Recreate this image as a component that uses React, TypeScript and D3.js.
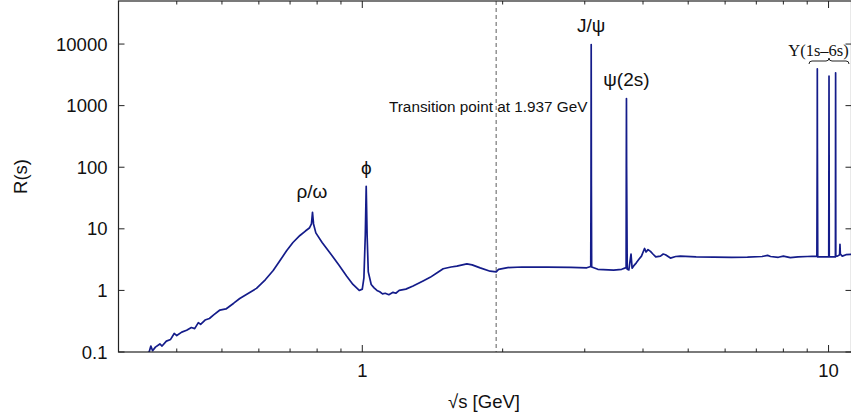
import React from "react";
import * as d3 from "d3";

const energies = [
  0.345, 0.349, 0.352, 0.355, 0.36, 0.368, 0.372, 0.38, 0.388, 0.395, 0.4, 0.41, 0.42, 0.43, 0.437, 0.445, 0.45, 0.46, 0.47, 0.48, 0.495, 0.51, 0.53, 0.546, 0.57, 0.593, 0.62, 0.644, 0.665, 0.688, 0.71, 0.735, 0.755, 0.77, 0.778, 0.782, 0.786, 0.795, 0.82, 0.852, 0.89, 0.926, 0.955, 0.985, 1.0, 1.008, 1.015, 1.0195, 1.024, 1.03, 1.045, 1.06, 1.075, 1.09, 1.105, 1.12, 1.14, 1.164, 1.18, 1.2, 1.24, 1.285, 1.35, 1.398, 1.45, 1.491, 1.55, 1.595, 1.676, 1.72, 1.79, 1.88, 1.937, 1.96, 2.05, 2.2, 2.49, 2.8, 3.03, 3.09, 3.094, 3.097, 3.1, 3.104, 3.2, 3.46, 3.6, 3.68, 3.683, 3.686, 3.689, 3.7, 3.73, 3.77, 3.79, 3.82, 3.87, 3.92, 3.97, 4.03, 4.06, 4.1, 4.15, 4.2, 4.26, 4.36, 4.42, 4.47, 4.58, 4.7, 4.81, 5.2, 5.68, 6.2, 6.7, 7.2, 7.4, 7.51, 7.8, 8.0, 8.28, 8.6, 9.0, 9.44, 9.455, 9.46, 9.465, 9.48, 9.9, 10.01, 10.018, 10.023, 10.028, 10.035, 10.2, 10.345, 10.351, 10.355, 10.359, 10.365, 10.45, 10.56, 10.58, 10.6, 10.7, 10.9, 11.2,
];
const rValues = [
  0.095, 0.1, 0.125, 0.105, 0.12, 0.135, 0.125, 0.15, 0.16, 0.2, 0.185, 0.21, 0.225, 0.25, 0.24, 0.3, 0.28, 0.33, 0.35, 0.4, 0.48, 0.5, 0.62, 0.74, 0.9, 1.08, 1.5, 2.1, 3.0, 4.4, 6.0, 7.8, 9.2, 10.3, 12, 18.5, 12, 8.6, 6.0, 4.1, 2.6, 1.7, 1.25, 1.0, 1.05, 1.6, 8, 49, 8, 2.0, 1.25, 1.1, 1.0, 0.95, 0.88, 0.9, 0.85, 0.93, 0.9, 1.0, 1.05, 1.18, 1.42, 1.63, 1.95, 2.25, 2.4, 2.48, 2.7, 2.6, 2.32, 2.05, 2.0, 2.2, 2.35, 2.4, 2.38, 2.36, 2.33, 2.45, 50, 9800, 50, 2.4, 2.2, 2.14, 2.2, 2.34, 100, 1300, 100, 2.2, 2.15, 3.9, 2.3, 2.5, 2.8, 3.2, 3.6, 4.8, 4.2, 4.6, 4.3, 3.9, 3.5, 3.6, 3.9, 3.8, 3.35, 3.55, 3.6, 3.5, 3.47, 3.45, 3.47, 3.55, 3.7, 3.55, 3.45, 3.6, 3.4, 3.5, 3.55, 3.6, 200, 3970, 200, 3.5, 3.5, 3.5, 200, 3010, 200, 3.5, 3.5, 3.5, 200, 3420, 200, 3.6, 3.6, 3.8, 5.6, 3.9, 3.6, 3.8, 3.84,
];

const yTickValues = [0.1, 1, 10, 100, 1000, 10000];
const yTickLabels = ["0.1", "1", "10", "100", "1000", "10000"];
const xMajorTicks = [1, 10];
const xMinorTicks = [0.4, 0.5, 0.6, 0.7, 0.8, 0.9, 2, 3, 4, 5, 6, 7, 8, 9];
const transitionEnergy = 1.937;

const peakLabels = [
  { text: "ρ/ω", x: 0.78, y: 19, dy: -14 },
  { text: "ϕ", x: 1.0195, y: 50, dy: -12 },
  { text: "J/ψ", x: 3.097, y: 9800, dy: -13 },
  { text: "ψ(2s)", x: 3.686, y: 1300, dy: -13 },
];

export default function App() {
  const W = 851;
  const H = 417;
  const left = 118.5;
  const right = 851.5;
  const top = 1;
  const bottom = 352;
  const x = d3.scaleLog().domain([0.3, 11.2]).range([left, right]);
  const y = d3.scaleLog().domain([0.1, 50000]).range([bottom, top]);
  const pts: [number, number][] = energies.map((e, i) => [e, rValues[i]]);
  const line = d3
    .line<[number, number]>()
    .x((d) => x(d[0]))
    .y((d) => y(d[1]));
  const font = "'Liberation Sans', Arial, Helvetica, sans-serif";
  const col = "#141c8a";
  const axisCol = "#222";

  const bx0 = 809;
  const bx1 = 849;
  const bm = (bx0 + bx1) / 2;
  const braceY = 61;
  const brace = `M${bx0},${braceY + 3} Q${bx0},${braceY} ${bx0 + 3},${braceY} L${bm - 3},${braceY} Q${bm},${braceY} ${bm},${braceY - 3} Q${bm},${braceY} ${bm + 3},${braceY} L${bx1 - 3},${braceY} Q${bx1},${braceY} ${bx1},${braceY + 3}`;

  return (
    <svg
      width={W}
      height={H}
      style={{ position: "absolute", left: 0, top: 0, background: "#fff" }}
      fontFamily={font}
    >
      <defs>
        <clipPath id="plotclip">
          <rect x={left} y={top} width={right - left} height={bottom - top} />
        </clipPath>
      </defs>
      <line
        x1={x(transitionEnergy)}
        x2={x(transitionEnergy)}
        y1={top}
        y2={bottom}
        stroke="#777"
        strokeWidth={1.2}
        strokeDasharray="4,3"
      />
      <path
        d={line(pts) || ""}
        fill="none"
        stroke={col}
        strokeWidth={1.7}
        strokeLinejoin="round"
        clipPath="url(#plotclip)"
      />
      <rect x={left} y={top} width={right - left} height={bottom - top} fill="none" stroke={axisCol} strokeWidth={1.2} />
      {yTickValues.map((v, i) => (
        <g key={"y" + i}>
          <line x1={left} x2={left + 6} y1={y(v)} y2={y(v)} stroke={axisCol} strokeWidth={1} />
          <line x1={right - 6} x2={right} y1={y(v)} y2={y(v)} stroke={axisCol} strokeWidth={1} />
          <text x={left - 11} y={y(v)} dy="0.36em" textAnchor="end" fontSize={18.5} fill="#111">
            {yTickLabels[i]}
          </text>
        </g>
      ))}
      {xMajorTicks.map((v) => (
        <g key={"xm" + v}>
          <line x1={x(v)} x2={x(v)} y1={bottom} y2={bottom - 7} stroke={axisCol} strokeWidth={1} />
          <line x1={x(v)} x2={x(v)} y1={top} y2={top + 7} stroke={axisCol} strokeWidth={1} />
          <text x={x(v)} y={377} textAnchor="middle" fontSize={18.5} fill="#111">
            {v}
          </text>
        </g>
      ))}
      {xMinorTicks.map((v) => (
        <g key={"xn" + v}>
          <line x1={x(v)} x2={x(v)} y1={bottom} y2={bottom - 3.5} stroke={axisCol} strokeWidth={1} />
          <line x1={x(v)} x2={x(v)} y1={top} y2={top + 3.5} stroke={axisCol} strokeWidth={1} />
        </g>
      ))}
      <text x={484} y={408} textAnchor="middle" fontSize={18.5} fill="#111">
        √s [GeV]
      </text>
      <text
        transform={`translate(27,${(top + bottom) / 2}) rotate(-90)`}
        textAnchor="middle"
        fontSize={18.5}
        fill="#111"
      >
        R(s)
      </text>
      <text x={389} y={112} fontSize={15.3} fill="#111">
        Transition point at 1.937 GeV
      </text>
      {peakLabels.map((p) => (
        <text key={p.text} x={x(p.x)} y={y(p.y) + p.dy} textAnchor="middle" fontSize={19} fill="#111">
          {p.text}
        </text>
      ))}
      <text x={818.5} y={56} textAnchor="middle" fontSize={16.5} fontFamily="'Liberation Serif', 'DejaVu Serif', serif" fill="#111">
        Υ(1s–6s)
      </text>
      <path d={brace} fill="none" stroke="#222" strokeWidth={1} />
    </svg>
  );
}
